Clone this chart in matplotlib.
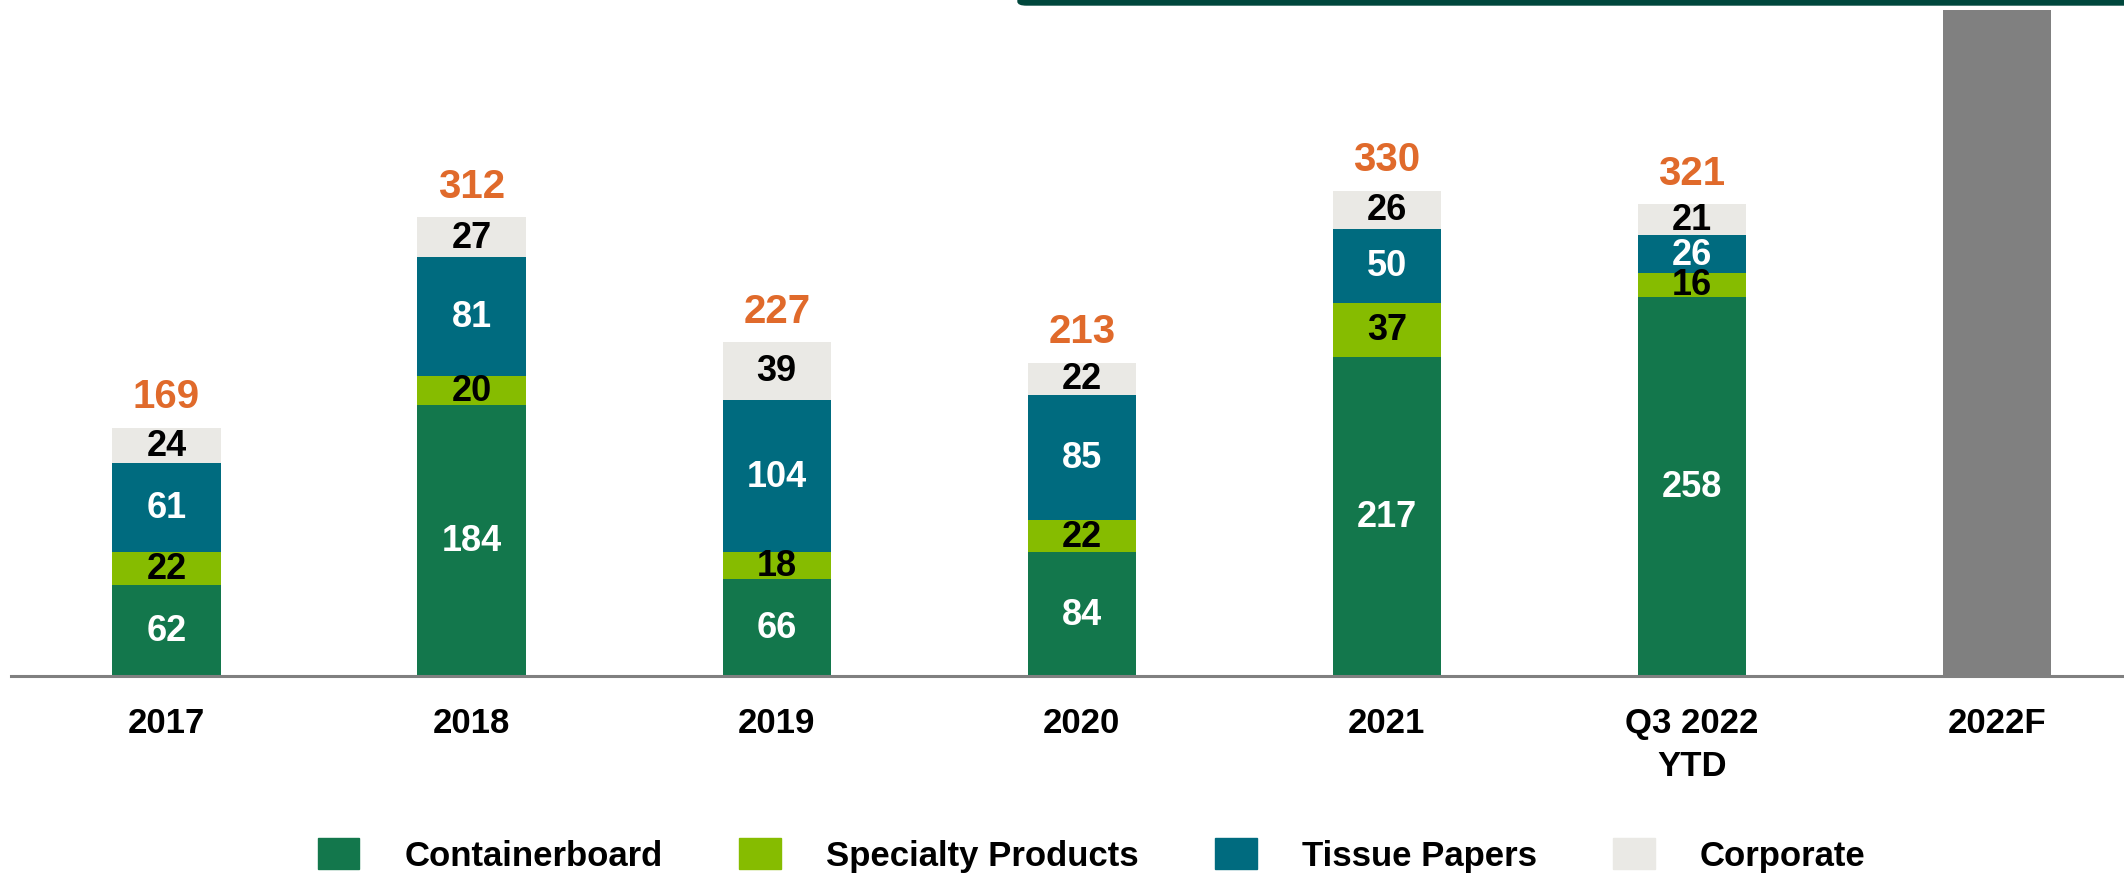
import matplotlib.pyplot as plt
from matplotlib.patches import Patch, FancyBboxPatch

plt.rcParams['font.family'] = ['Liberation Sans Narrow', 'Liberation Sans', 'DejaVu Sans']
plt.rcParams['font.weight'] = 'bold'

# data
years = ['2017', '2018', '2019', '2020', '2021', 'Q3 2022\nYTD', '2022F']
containerboard = [62, 184, 66, 84, 217, 258]
specialty = [22, 20, 18, 22, 37, 16]
tissue = [61, 81, 104, 85, 50, 26]
corporate = [24, 27, 39, 22, 26, 21]
totals = [169, 312, 227, 213, 330, 321]
forecast = 453  # grey placeholder bar for 2022F

c_cont = '#13774C'
c_spec = '#86BC00'
c_tiss = '#006B7F'
c_corp = '#EAE9E5'
c_total = '#E06A2B'

fig = plt.figure(figsize=(21.24, 8.78), dpi=100)
ax = fig.add_axes([0.005, 0.229, 0.995, 0.771])

x = list(range(len(containerboard)))
w = 0.355
bottom = [0] * len(x)
for vals, col, tcol in [(containerboard, c_cont, 'white'), (specialty, c_spec, 'black'),
                        (tissue, c_tiss, 'white'), (corporate, c_corp, 'black')]:
    ax.bar(x, vals, w, bottom=bottom, color=col, zorder=2)
    for i, v in enumerate(vals):
        ax.text(x[i], bottom[i] + v / 2, str(v), ha='center', va='center',
                color=tcol, fontsize=26, fontweight='bold', zorder=3)
    bottom = [b + v for b, v in zip(bottom, vals)]

for i, t in enumerate(totals):
    ax.annotate(str(t), (x[i], t), xytext=(0, 9), textcoords='offset points',
                ha='center', va='bottom', color=c_total, fontsize=29, fontweight='bold')

ax.bar([len(x)], [forecast], w, color='#808080', zorder=2)

ax.set_xlim(-0.511, 6.416)
ax.set_ylim(0, 460.5)
ax.set_xticks(range(len(years)))
ax.set_xticklabels(years, fontsize=25, fontweight='bold', linespacing=1.35)
ax.tick_params(axis='x', length=0, pad=22)
ax.set_yticks([])
for s in ['top', 'right', 'left']:
    ax.spines[s].set_visible(False)
ax.spines['bottom'].set_color('#808080')
ax.spines['bottom'].set_linewidth(2.2)

handles = [Patch(color=c_cont, label='Containerboard'),
           Patch(color=c_spec, label='Specialty Products'),
           Patch(color=c_tiss, label='Tissue Papers'),
           Patch(color=c_corp, label='Corporate')]
fig.legend(handles=handles, loc='center', bbox_to_anchor=(0.514, 1 - 856 / 878), ncol=4,
           frameon=False, fontsize=25, handlelength=1.2, handleheight=1.0,
           handletextpad=1.3, columnspacing=2.2)

# dark green band at the top
fig.add_artist(FancyBboxPatch((1018 / 2124, 1 - 6 / 878), 1.0, 0.02,
                              boxstyle='round,pad=0,rounding_size=0.004',
                              transform=fig.transFigure, color='#00473C', clip_on=False))

fig.savefig('out.png', dpi=100)
